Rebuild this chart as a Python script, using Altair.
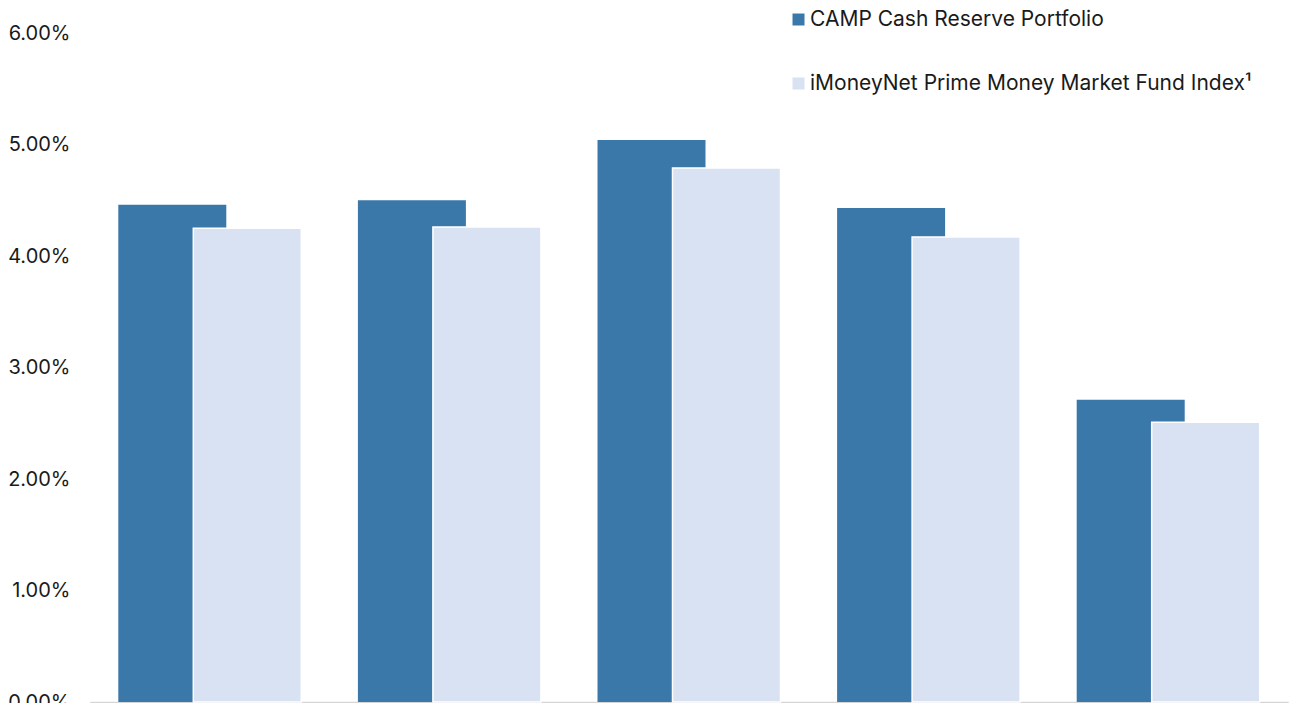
import altair as alt
import pandas as pd

categories = ["Period 1", "Period 2", "Period 3", "Period 4", "Period 5"]
series = ["CAMP Cash Reserve Portfolio", "iMoneyNet Prime Money Market Fund Index¹"]
camp = [4.46, 4.50, 5.04, 4.43, 2.71]
imoneynet = [4.25, 4.26, 4.79, 4.17, 2.51]
colors = ["#3b78aa", "#d9e2f2"]
y_ticks = [0, 1, 2, 3, 4, 5, 6]

rows = []
for i, c in enumerate(categories):
    rows.append({"cat": c, "pos": i + 0.5, "series": series[0], "value": camp[i] / 100})
    rows.append({"cat": c, "pos": i + 0.5, "series": series[1], "value": imoneynet[i] / 100})
df = pd.DataFrame(rows)

FONT = "Inter"

x_enc = alt.X(
    "pos:Q",
    scale=alt.Scale(domain=[0, len(categories)], nice=False, zero=False, padding=0),
    axis=alt.Axis(
        values=list(range(len(categories) + 1)),
        labels=False,
        title=None,
        grid=False,
        domain=True,
        domainColor="#d6d6d6",
        domainWidth=1.5,
        ticks=True,
        tickColor="#d6d6d6",
        tickWidth=1.5,
        tickSize=10,
    ),
)
y_enc = alt.Y(
    "value:Q",
    scale=alt.Scale(domain=[0, 0.06], nice=False),
    axis=alt.Axis(
        values=[v / 100 for v in y_ticks],
        format=".2%",
        title=None,
        grid=False,
        domain=False,
        ticks=False,
        labelPadding=20,
        labelFont=FONT,
        labelFontSize=20,
        labelColor="#1a1a1a",
    ),
)
color_enc = alt.Color(
    "series:N",
    scale=alt.Scale(domain=series, range=colors),
    legend=alt.Legend(
        title=None,
        orient="none",
        legendX=698,
        legendY=-24,
        symbolType="square",
        symbolSize=144,
        symbolStrokeWidth=0,
        labelFont=FONT,
        labelFontSize=21,
        labelColor="#1a1a1a",
        labelOffset=1,
        rowPadding=42,
        labelLimit=600,
    ),
)

base = alt.Chart(df)
dark = base.transform_filter(alt.datum.series == series[0]).mark_bar(
    width=108, xOffset=-37.5
).encode(x=x_enc, y=y_enc, color=color_enc)
light = base.transform_filter(alt.datum.series == series[1]).mark_bar(
    width=108, xOffset=37.5, stroke="white", strokeWidth=1.5
).encode(x=x_enc, y=y_enc, color=color_enc)

chart = (
    alt.layer(dark, light)
    .properties(
        width=1198,
        height=669,
        autosize=alt.AutoSizeParams(type="none"),
        padding={"left": 82, "top": 25, "right": 1, "bottom": 1},
    )
    .configure(font=FONT)
    .configure_view(strokeWidth=0, stroke="transparent")
)

chart.save("out.html", embed_options={"renderer": "svg", "actions": False})
